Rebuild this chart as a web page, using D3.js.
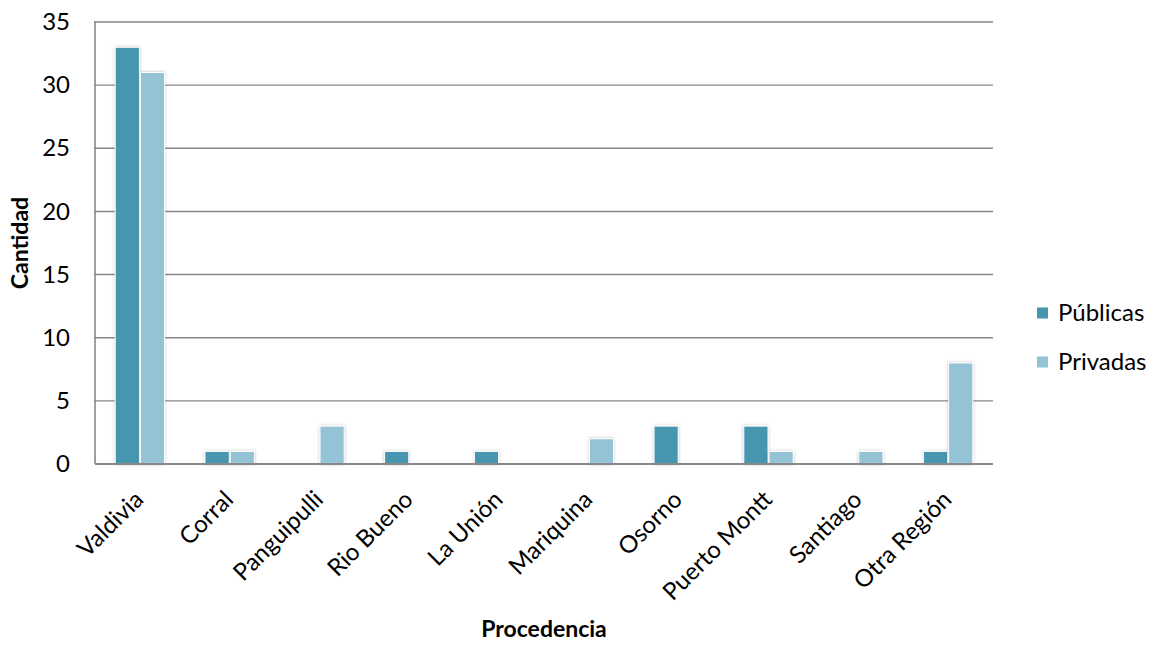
<!DOCTYPE html>
<html>
<head>
<meta charset="utf-8">
<script src="https://cdn.jsdelivr.net/npm/d3@7/dist/d3.min.js"></script>
<style>
  html, body { margin: 0; padding: 0; background: #fff; }
  svg { display: block; font-family: Lato, "Open Sans", sans-serif; }
</style>
</head>
<body>
<svg id="chart" width="1149" height="645"></svg>
<script>
// Procedencia de instituciones, por tipo
const categories = ["Valdivia", "Corral", "Panguipulli", "Rio Bueno", "La Unión",
                    "Mariquina", "Osorno", "Puerto Montt", "Santiago", "Otra Región"];
const publicas = [33, 1, 0, 1, 1, 0, 3, 3, 0, 1];
const privadas = [31, 1, 3, 0, 0, 2, 0, 1, 1, 8];
const seriesNames = ["Públicas", "Privadas"];
const yTicks = [0, 5, 10, 15, 20, 25, 30, 35];

const colors = ["#4596ae", "#93c3d5"];
const svg = d3.select("#chart");

const margin = { left: 95, right: 156, top: 22, bottom: 181 };
const W = 1149, H = 645;
const x0 = margin.left, x1 = W - margin.right;
const yTop = margin.top, yBot = H - margin.bottom;
const labelSize = 24;

const x = d3.scaleBand().domain(categories).range([x0, x1]).paddingInner(0.45).paddingOuter(0.225);
const xs = d3.scaleBand().domain(seriesNames).range([0, x.bandwidth()]).paddingInner(0.04);
const y = d3.scaleLinear().domain([0, 35]).range([yBot, yTop]);

// soft shadow behind bars
const defs = svg.append("defs");
const f = defs.append("filter").attr("id", "shadow").attr("x", "-30%").attr("y", "-30%").attr("width", "160%").attr("height", "160%");
f.append("feDropShadow").attr("dx", 0).attr("dy", 0).attr("stdDeviation", 1.6)
  .attr("flood-color", "#000").attr("flood-opacity", 0.28);

// gridlines
const grid = svg.append("g");
grid.selectAll("line").data(yTicks.filter(d => d > 0)).join("line")
  .attr("x1", x0 - 1).attr("x2", x1)
  .attr("y1", d => y(d)).attr("y2", d => y(d))
  .attr("stroke", "#888").attr("stroke-width", 1.4);

// y axis labels
const yAxis = d3.axisLeft(y).tickValues(yTicks).tickSize(0).tickPadding(25);
const gy = svg.append("g").attr("transform", `translate(${x0},0)`).call(yAxis);
gy.select(".domain").remove();
gy.selectAll("text").attr("font-size", labelSize).attr("fill", "#000").attr("font-family", "Lato, sans-serif");

// bars
const data = categories.map((c, i) => ({ c, vals: [publicas[i], privadas[i]] }));
const groups = svg.append("g").selectAll("g").data(data).join("g")
  .attr("transform", d => `translate(${x(d.c)},0)`);
groups.selectAll("rect")
  .data(d => d.vals.map((v, j) => ({ v, s: seriesNames[j], j })).filter(e => e.v > 0))
  .join("rect")
  .attr("x", e => xs(e.s))
  .attr("width", xs.bandwidth())
  .attr("y", e => y(e.v))
  .attr("height", e => yBot - y(e.v))
  .attr("fill", e => colors[e.j])
  .attr("stroke", "#fff").attr("stroke-width", 1)
  .attr("filter", "url(#shadow)");

// axis lines
svg.append("line").attr("x1", x0).attr("x2", x0).attr("y1", yTop - 1).attr("y2", yBot)
  .attr("stroke", "#888").attr("stroke-width", 1.6);
svg.append("line").attr("x1", x0).attr("x2", x1).attr("y1", yBot).attr("y2", yBot)
  .attr("stroke", "#888").attr("stroke-width", 1.8);

// x labels, rotated
const xAxis = d3.axisBottom(x).tickSize(0).tickPadding(0);
const gx = svg.append("g").attr("transform", `translate(0,${yBot})`).call(xAxis);
gx.select(".domain").remove();
gx.selectAll("text")
  .attr("font-size", labelSize).attr("fill", "#000").attr("font-family", "Lato, sans-serif")
  .attr("text-anchor", "end")
  .attr("dy", null).attr("y", null)
  .attr("transform", "translate(5,37) rotate(-45)");

// axis titles
svg.append("text").attr("transform", `translate(28,${(yTop + yBot) / 2}) rotate(-90)`)
  .attr("text-anchor", "middle").attr("font-size", 23).attr("font-weight", "bold")
  .text("Cantidad");
svg.append("text").attr("x", (x0 + x1) / 2).attr("y", 637)
  .attr("text-anchor", "middle").attr("font-size", 23).attr("font-weight", "bold")
  .text("Procedencia");

// legend
const legend = svg.append("g").attr("transform", "translate(1037,313)");
const li = legend.selectAll("g").data(seriesNames).join("g")
  .attr("transform", (d, i) => `translate(0,${i * 49})`);
li.append("rect").attr("x", 0).attr("y", -5.5).attr("width", 11).attr("height", 11)
  .attr("fill", (d, i) => colors[i]);
li.append("text").attr("x", 21).attr("y", 0).attr("dy", "0.35em")
  .attr("font-size", labelSize).text(d => d);
</script>
</body>
</html>
